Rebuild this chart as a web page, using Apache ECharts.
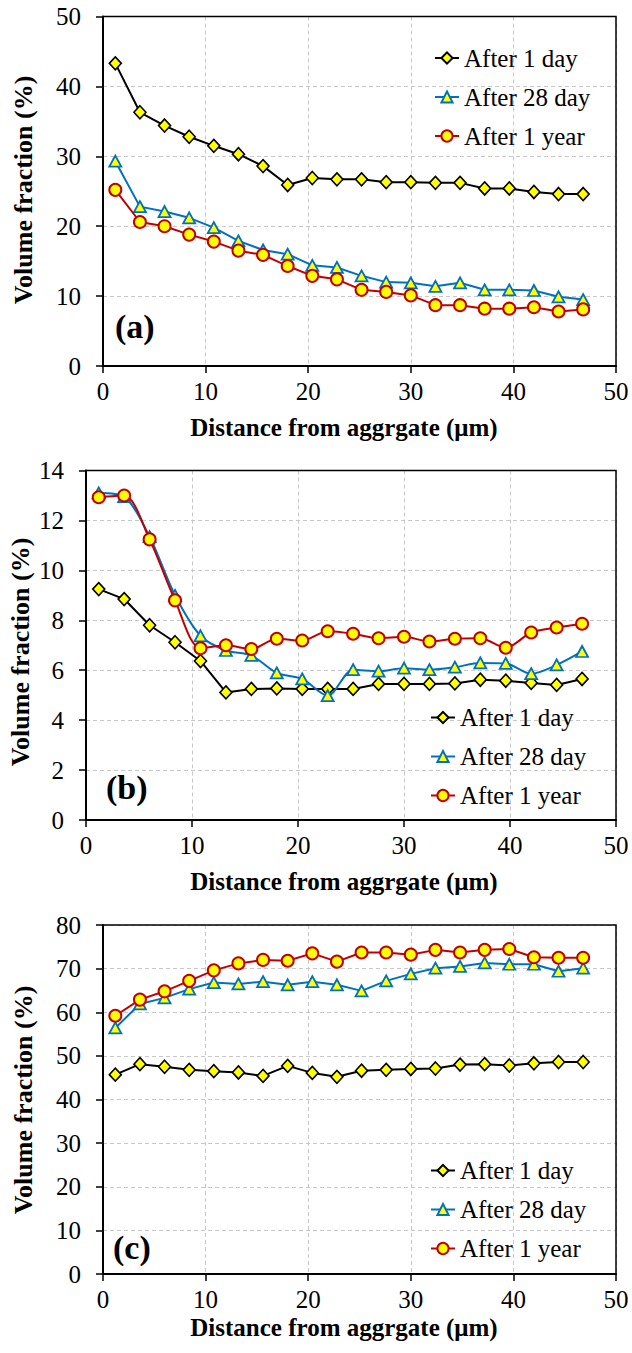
<!DOCTYPE html>
<html><head><meta charset="utf-8">
<script src="https://cdn.jsdelivr.net/npm/echarts@6/dist/echarts.min.js"></script>
<style>html,body{margin:0;padding:0;background:#fff}#c{width:632px;height:1353px}</style>
</head><body><div id="c"></div>
<script>
// ---- data ----
const distance = [1.2,3.6,6.0,8.4,10.8,13.2,15.6,18.0,20.4,22.8,25.2,27.6,30.0,32.4,34.8,37.2,39.6,42.0,44.4,46.8];
const seriesNames = ['After 1 day','After 28 day','After 1 year'];
const panelLabels = ['(a)','(b)','(c)'];
const xTitle = 'Distance from aggrgate (μm)';
const yTitle = 'Volume fraction (%)';

// panel (a)
const a_day1  = [43.3,36.3,34.4,32.8,31.5,30.3,28.6,25.9,26.9,26.7,26.7,26.3,26.3,26.2,26.2,25.4,25.4,24.9,24.6,24.6];
const a_day28 = [29.3,22.8,22.1,21.2,19.8,17.9,16.6,16.0,14.4,14.1,12.9,12.0,11.9,11.4,11.9,10.9,10.9,10.8,9.9,9.5];
const a_year1 = [25.2,20.6,20.0,18.8,17.8,16.5,15.9,14.3,12.9,12.4,10.9,10.6,10.1,8.7,8.7,8.2,8.2,8.4,7.8,8.1];
// panel (b)
const b_day1  = [9.25,8.85,7.8,7.12,6.37,5.11,5.25,5.27,5.25,5.25,5.25,5.45,5.45,5.45,5.47,5.62,5.58,5.49,5.41,5.65];
const b_day28 = [13.1,12.95,11.35,9.0,7.38,6.79,6.59,5.89,5.65,4.98,6.02,5.96,6.08,6.02,6.12,6.29,6.27,5.86,6.21,6.75];
const b_year1 = [12.93,13.0,11.24,8.8,6.88,7.0,6.85,7.26,7.19,7.56,7.46,7.28,7.34,7.15,7.26,7.28,6.9,7.51,7.71,7.86];
// panel (c)
const c_day1  = [45.7,48.1,47.5,46.8,46.5,46.2,45.4,47.7,46.1,45.2,46.6,46.8,47.0,47.1,48.0,48.1,47.8,48.3,48.6,48.6];
const c_day28 = [56.4,61.9,63.3,65.3,66.8,66.5,67.0,66.3,67.0,66.3,64.9,67.2,68.8,70.1,70.5,71.3,71.0,71.0,69.4,70.1];
const c_year1 = [59.2,62.9,64.8,67.2,69.6,71.2,72.0,71.8,73.5,71.6,73.7,73.7,73.2,74.3,73.7,74.3,74.5,72.6,72.5,72.5];

const xTicks = {min:0, max:50, interval:10};
const yTicksA = {min:0, max:50, interval:10};
const yTicksB = {min:0, max:14, interval:2};
const yTicksC = {min:0, max:80, interval:10};

const panels = [
  {vals:[a_day1,a_day28,a_year1], y:yTicksA, smooth:[false,false,false]},
  {vals:[b_day1,b_day28,b_year1], y:yTicksB, smooth:[false,0.3,0.3]},
  {vals:[c_day1,c_day28,c_year1], y:yTicksC, smooth:[false,false,false]}
];

// ---- layout / style ----
const FONT = 'Liberation Serif';
const grids = [
  {left:103, top:16.5, width:513, height:349.5},
  {left:86, top:470.5, width:530, height:349.5},
  {left:103, top:925, width:513, height:349}
];
const styles = [
  {symbol:'diamond', size:[12,13], color:'#000000', bw:1.6},
  {symbol:'triangle', size:[12,11], color:'#0070C0', bw:1.8},
  {symbol:'circle', size:12, color:'#C00000', bw:2}
];
const legendPos = [
  {left:434, top:45.5},
  {left:430, top:705},
  {left:430, top:1158}
];
const yTitlePos = [{x:23.5,y:190},{x:20.5,y:652},{x:23.5,y:1100}];
const xTitlePos = [{x:344,y:427},{x:344,y:881},{x:344,y:1327}];
const labelPos = [{x:115,y:326},{x:106,y:787},{x:113,y:1247}];

const axisCommon = {
  axisLine:{show:true, onZero:false, lineStyle:{color:'#000', width:2}},
  axisTick:{show:true, inside:false, length:7, lineStyle:{color:'#000', width:1.5}},
  splitLine:{show:true, lineStyle:{color:'#c8c8c8', width:1, type:[4,3]}},
  axisLabel:{fontFamily:FONT, fontSize:25, color:'#000'}
};

const option = {
  animation:false,
  backgroundColor:'#fff',
  grid: grids.map(g => Object.assign({show:true, z:1, borderColor:'#000', borderWidth:1.5, backgroundColor:'transparent'}, g)),
  xAxis: grids.map((g,i) => Object.assign({}, axisCommon, {
    type:'value', gridIndex:i, min:xTicks.min, max:xTicks.max, interval:xTicks.interval,
    axisLabel:Object.assign({}, axisCommon.axisLabel, {margin:13})
  })),
  yAxis: panels.map((p,i) => Object.assign({}, axisCommon, {
    type:'value', gridIndex:i, min:p.y.min, max:p.y.max, interval:p.y.interval,
    axisLabel:Object.assign({}, axisCommon.axisLabel, {margin:22})
  })),
  legend: legendPos.map(lp => ({
    data: seriesNames, orient:'vertical', left:lp.left, top:lp.top, padding:0,
    itemWidth:24, itemHeight:14, itemGap:14,
    textStyle:{fontFamily:FONT, fontSize:25, color:'#000', lineHeight:25},
    selectedMode:false
  })),
  series: [],
  graphic: []
};

panels.forEach((p,i) => {
  p.vals.forEach((v,k) => {
    const s = styles[k];
    option.series.push({
      type:'line', name:seriesNames[k], xAxisIndex:i, yAxisIndex:i,
      data: distance.map((x,j) => [x, v[j]]),
      symbol:s.symbol, symbolSize:s.size, showAllSymbol:true, smooth:p.smooth[k],
      lineStyle:{color:s.color, width:2},
      itemStyle:{color:'#FFFF00', borderColor:s.color, borderWidth:s.bw},
      z: 2+k
    });
  });
  option.graphic.push({
    type:'text', x:yTitlePos[i].x, y:yTitlePos[i].y, rotation:Math.PI/2,
    style:{text:yTitle, fontFamily:FONT, fontSize:26, fontWeight:'bold', fill:'#000', align:'center', verticalAlign:'middle'}
  });
  option.graphic.push({
    type:'text', x:xTitlePos[i].x, y:xTitlePos[i].y,
    style:{text:xTitle, fontFamily:FONT, fontSize:25, fontWeight:'bold', fill:'#000', align:'center', verticalAlign:'middle'}
  });
  option.graphic.push({
    type:'text', x:labelPos[i].x, y:labelPos[i].y,
    style:{text:panelLabels[i], fontFamily:FONT, fontSize:34, fontWeight:'bold', fill:'#000', align:'left', verticalAlign:'middle'}
  });
});

const chart = echarts.init(document.getElementById('c'), null, {renderer:'svg', width:632, height:1353});
chart.setOption(option);
</script>
</body></html>
